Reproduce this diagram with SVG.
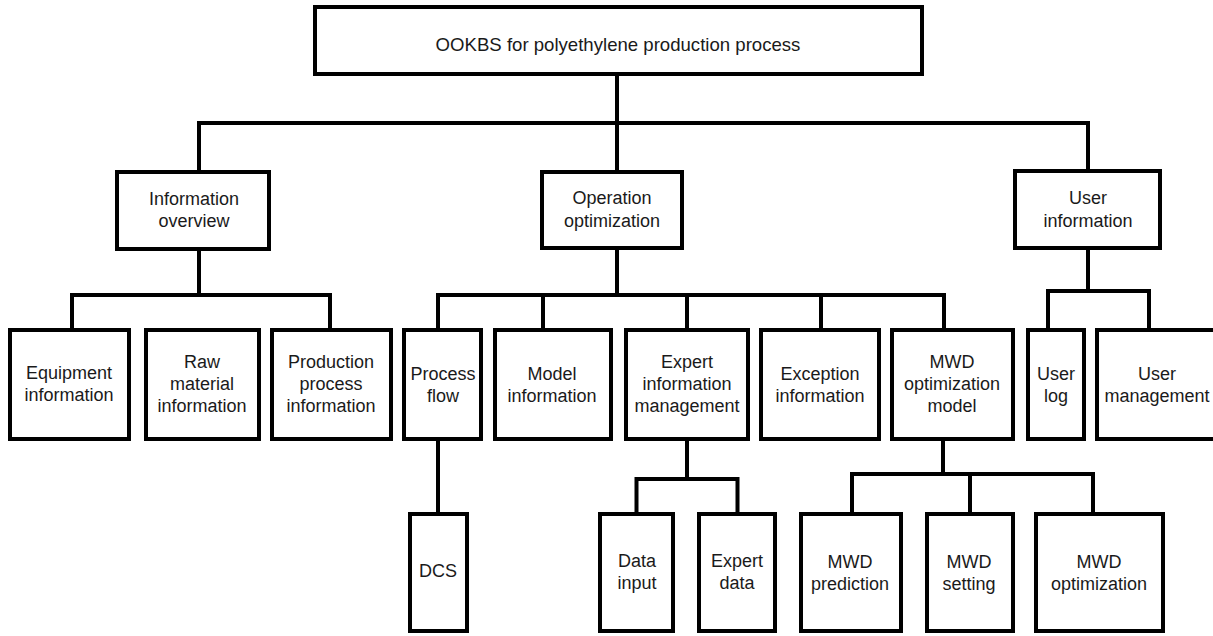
<svg xmlns="http://www.w3.org/2000/svg" width="1213" height="636" viewBox="0 0 1213 636">
<style>
.box{fill:#fff;stroke:#000;stroke-width:4}
.t{font-family:"Liberation Sans",Arial,sans-serif;font-size:18px;fill:#1a1a1a;text-anchor:middle}
.c{fill:none;stroke:#000;stroke-width:4;stroke-linejoin:miter;stroke-linecap:square}
</style>
<rect width="1213" height="636" fill="#fff"/>
<g id="connectors">
<path class="c" d="M617,74 V172"/>
<path class="c" d="M199,172 V123 H1088 V171"/>
<path class="c" d="M199,249 V295 M72,330 V295 H330 V330"/>
<path class="c" d="M617,248 V295 M438,330 V295 H944 V330 M543,295 V330 M687,295 V330 M821,295 V330"/>
<path class="c" d="M1088,248 V291 M1048,330 V291 H1149 V330"/>
<path class="c" d="M438,439 V514"/>
<path class="c" d="M687,439 V479 M636.5,514 V479 H737.5 V514"/>
<path class="c" d="M943,439 V474 M852,514 V474 H1093 V514 M970,474 V514"/>
</g>
<g id="root"><rect class="box" x="315" y="7" width="607" height="67"/><text class="t" x="618" y="51" style="font-size:18.6px">OOKBS for polyethylene production process</text></g>
<g id="info-overview"><rect class="box" x="117" y="172" width="152" height="77"/><text class="t" x="194"><tspan x="194" y="205">Information</tspan><tspan x="194" y="227">overview</tspan></text></g>
<g id="operation-optimization"><rect class="box" x="542" y="172" width="140" height="76"/><text class="t"><tspan x="612" y="204">Operation</tspan><tspan x="612" y="227">optimization</tspan></text></g>
<g id="user-information"><rect class="box" x="1015" y="171" width="145" height="77"/><text class="t"><tspan x="1088" y="204">User</tspan><tspan x="1088" y="227">information</tspan></text></g>
<g id="equipment-information"><rect class="box" x="10" y="330" width="119" height="109"/><text class="t"><tspan x="69" y="379">Equipment</tspan><tspan x="69" y="401">information</tspan></text></g>
<g id="raw-material-information"><rect class="box" x="146" y="330" width="113" height="109"/><text class="t"><tspan x="202" y="368">Raw</tspan><tspan x="202" y="390">material</tspan><tspan x="202" y="412">information</tspan></text></g>
<g id="production-process-information"><rect class="box" x="272" y="330" width="119" height="109"/><text class="t"><tspan x="331" y="368">Production</tspan><tspan x="331" y="390">process</tspan><tspan x="331" y="412">information</tspan></text></g>
<g id="process-flow"><rect class="box" x="404" y="330" width="77" height="109"/><text class="t"><tspan x="443" y="380">Process</tspan><tspan x="443" y="402">flow</tspan></text></g>
<g id="model-information"><rect class="box" x="495" y="330" width="116" height="109"/><text class="t"><tspan x="552" y="380">Model</tspan><tspan x="552" y="402">information</tspan></text></g>
<g id="expert-information-management"><rect class="box" x="626" y="330" width="122" height="109"/><text class="t"><tspan x="687" y="368">Expert</tspan><tspan x="687" y="390">information</tspan><tspan x="687" y="412">management</tspan></text></g>
<g id="exception-information"><rect class="box" x="761" y="330" width="118" height="109"/><text class="t"><tspan x="820" y="380">Exception</tspan><tspan x="820" y="402">information</tspan></text></g>
<g id="mwd-optimization-model"><rect class="box" x="892" y="330" width="121" height="109"/><text class="t"><tspan x="952" y="368">MWD</tspan><tspan x="952" y="390">optimization</tspan><tspan x="952" y="412">model</tspan></text></g>
<g id="user-log"><rect class="box" x="1028" y="330" width="56" height="109"/><text class="t"><tspan x="1056" y="380">User</tspan><tspan x="1056" y="402">log</tspan></text></g>
<g id="user-management"><rect class="box" x="1097" y="330" width="121" height="109"/><text class="t"><tspan x="1157" y="380">User</tspan><tspan x="1157" y="402">management</tspan></text></g>
<g id="dcs"><rect class="box" x="410" y="514" width="57" height="117"/><text class="t" x="438" y="577">DCS</text></g>
<g id="data-input"><rect class="box" x="600" y="514" width="73" height="117"/><text class="t"><tspan x="637" y="567">Data</tspan><tspan x="637" y="589">input</tspan></text></g>
<g id="expert-data"><rect class="box" x="699" y="514" width="76" height="117"/><text class="t"><tspan x="737" y="567">Expert</tspan><tspan x="737" y="589">data</tspan></text></g>
<g id="mwd-prediction"><rect class="box" x="801" y="514" width="100" height="117"/><text class="t"><tspan x="850" y="568">MWD</tspan><tspan x="850" y="590">prediction</tspan></text></g>
<g id="mwd-setting"><rect class="box" x="927" y="514" width="86" height="117"/><text class="t"><tspan x="969" y="568">MWD</tspan><tspan x="969" y="590">setting</tspan></text></g>
<g id="mwd-optimization"><rect class="box" x="1036" y="514" width="127" height="117"/><text class="t"><tspan x="1099" y="568">MWD</tspan><tspan x="1099" y="590">optimization</tspan></text></g>
</svg>
